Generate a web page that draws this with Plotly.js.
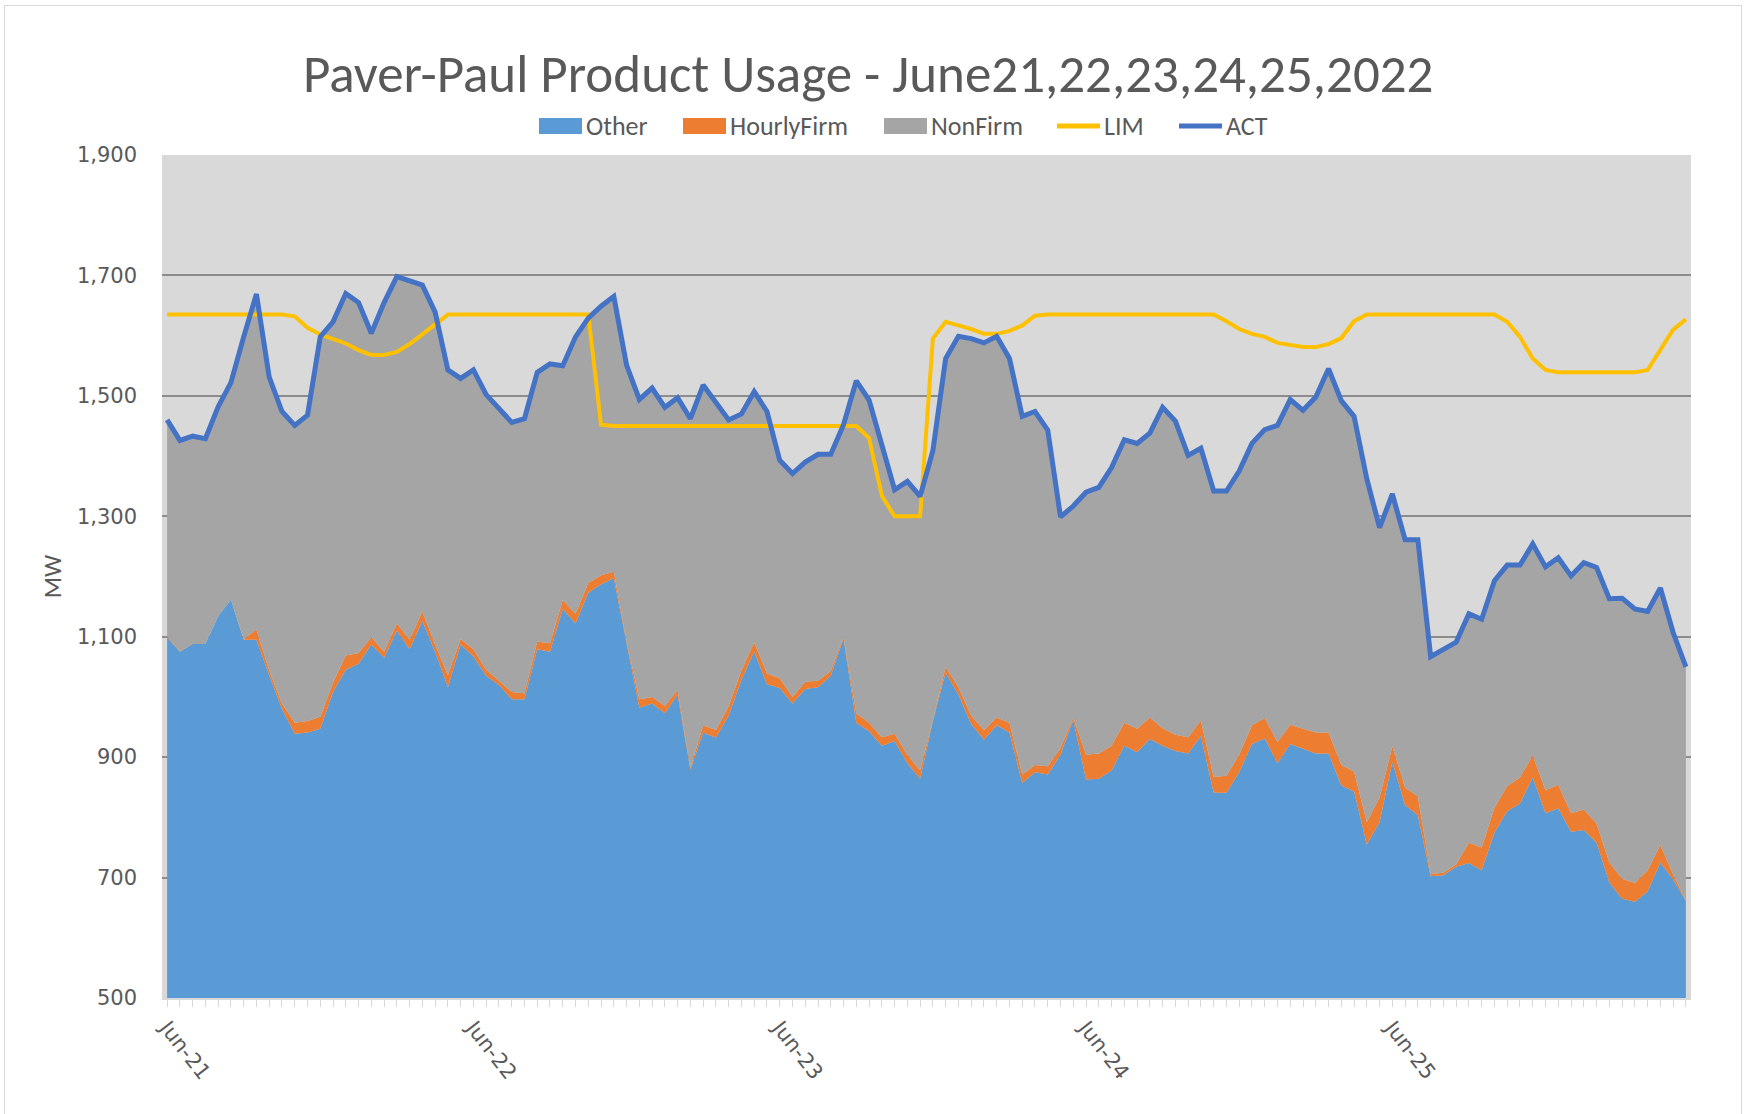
<!DOCTYPE html>
<html>
<head>
<meta charset="utf-8">
<script src="https://cdn.plot.ly/plotly-3.0.1.min.js"></script>
<style>
  html, body { margin: 0; padding: 0; background: #ffffff; }
  #wrap { position: relative; width: 1747px; height: 1114px; overflow: hidden; }
  #chart { width: 1747px; height: 1114px; }
  #frame { position: absolute; left: 4px; top: 5px; width: 1736px; height: 1130px;
           border: 1px solid #d9d9d9; pointer-events: none; }
</style>
</head>
<body>
<div id="wrap">
  <div id="chart"></div>
  <div id="frame"></div>
</div>
<script>
// ---- Data (hourly, June 21 - June 25, 2022) ----
const dayLabels = ['Jun-21', 'Jun-22', 'Jun-23', 'Jun-24', 'Jun-25'];
const hoursPerDay = 24;

const other = [
  1099,1075,1088,1088,1134,1162,1095,1095,1036,980,939,941,947,1008,1045,1055,1087,1065,1110,1079,1126,1075,1016,1087,
  1067,1035,1020,996,996,1079,1075,1146,1122,1173,1187,1197,1090,982,989,973,1004,879,941,932,969,1028,1075,1021,
  1015,989,1013,1016,1035,1097,957,943,919,927,890,864,960,1040,1004,955,929,953,941,857,875,871,904,962,
  863,864,878,919,908,930,919,910,906,935,841,841,875,922,931,890,922,914,906,906,853,843,755,792,
  892,820,804,702,704,718,724,712,775,810,823,866,807,815,776,779,758,692,665,660,677,725,697,661
];

const hourlyFirm = [
  2,1,0,0,0,0,1,17,8,9,18,19,20,16,24,18,12,10,12,16,16,12,20,9,
  12,10,7,12,10,13,14,15,16,16,15,11,3,14,11,12,8,3,12,13,16,16,16,18,
  16,11,12,11,8,3,16,14,14,12,14,14,2,10,12,14,16,13,16,14,12,14,11,4,
  41,42,41,38,39,36,29,27,27,26,26,28,29,31,34,35,32,33,35,35,34,33,37,41,
  26,29,31,4,4,4,34,38,41,42,43,37,38,39,31,34,32,33,33,31,35,29,8,1
];

const nonFirm = [
  359,350,345,341,348,360,502,557,487,485,494,508,631,599,601,582,505,580,576,596,542,552,507,433,
  464,457,453,448,456,447,464,389,460,440,447,457,458,498,513,496,485,580,565,543,475,426,416,435,
  362,371,365,376,360,352,552,536,484,405,454,455,447,512,583,626,643,633,605,595,587,558,384,351,
  436,442,462,470,474,472,533,521,468,452,475,473,471,468,479,526,540,529,557,604,605,590,570,448,
  419,412,426,361,371,369,380,379,377,367,353,351,371,377,394,410,425,438,466,455,430,427,402,388
];

const lim = [
  1635,1635,1635,1635,1635,1635,1635,1635,1635,1635,1632,1613,1602,1595,1587,1576,1568,1568,1573,1586,1603,1620,1635,1635,
  1635,1635,1635,1635,1635,1635,1635,1635,1635,1635,1452,1450,1450,1450,1450,1450,1450,1450,1450,1450,1450,1450,1450,1450,
  1450,1450,1450,1450,1450,1450,1450,1430,1334,1300,1300,1300,1595,1623,1617,1611,1603,1603,1608,1617,1633,1635,1635,1635,
  1635,1635,1635,1635,1635,1635,1635,1635,1635,1635,1635,1624,1611,1603,1598,1588,1584,1581,1581,1586,1596,1624,1635,1635,
  1635,1635,1635,1635,1635,1635,1635,1635,1635,1623,1598,1562,1543,1539,1539,1539,1539,1539,1539,1539,1543,1578,1610,1627
];

const act = [
  1460,1426,1433,1429,1482,1522,1598,1669,1531,1474,1451,1468,1598,1623,1670,1655,1604,1655,1698,1691,1684,1639,1543,1529,
  1543,1502,1480,1456,1462,1539,1553,1550,1598,1629,1649,1665,1551,1494,1513,1481,1497,1462,1518,1488,1460,1470,1507,1474,
  1393,1371,1390,1403,1403,1452,1525,1493,1417,1344,1358,1333,1409,1562,1599,1595,1588,1599,1562,1466,1474,1443,1299,1317,
  1340,1348,1381,1427,1421,1438,1481,1458,1401,1413,1342,1342,1375,1421,1444,1451,1494,1476,1498,1545,1492,1466,1362,1281,
  1337,1261,1261,1067,1079,1091,1138,1129,1193,1219,1219,1254,1216,1231,1201,1223,1215,1163,1164,1146,1142,1181,1107,1050
];

// hour index categories (one per hourly reading)
const hours = [];
for (let i = 0; i < other.length; i++) hours.push(i);
const dayTickVals = dayLabels.map((d, i) => i * hoursPerDay);

const textFont = "Carlito, Calibri, 'Liberation Sans Narrow', 'Arial Narrow', 'Liberation Sans', sans-serif";
const tickFont = "'DejaVu Sans', Verdana, sans-serif";

const series = [
  { name: 'Other',      kind: 'area', color: '#5b9bd5', data: other },
  { name: 'HourlyFirm', kind: 'area', color: '#ed7d31', data: hourlyFirm },
  { name: 'NonFirm',    kind: 'area', color: '#a5a5a5', data: nonFirm },
  { name: 'LIM',        kind: 'line', color: '#ffc000', data: lim,  width: 4 },
  { name: 'ACT',        kind: 'line', color: '#4472c4', data: act,  width: 5 }
];

const traces = series.map(s => s.kind === 'area'
  ? { x: hours, y: s.data, name: s.name, type: 'scatter', mode: 'none', stackgroup: 'one',
      fillcolor: s.color, line: { width: 0 }, showlegend: false }
  : { x: hours, y: s.data, name: s.name, type: 'scatter', mode: 'lines',
      line: { color: s.color, width: s.width }, showlegend: false });

// ---- Custom legend (Excel style: boxes for areas, lines for series lines) ----
const plotL = 162, plotW = 1529, plotB = 998, plotH = 843;
const px2x = X => (X - plotL) / plotW;
const px2y = Y => (plotB - Y) / plotH;
const legendSymbolX = [539, 683, 884, 1057, 1179];
const legendSymbolW = 43;
const legendCY = 126;
const shapes = [];
const annotations = [];
series.forEach((s, i) => {
  const x0 = legendSymbolX[i], x1 = x0 + legendSymbolW;
  if (s.kind === 'area') {
    shapes.push({ type: 'rect', xref: 'paper', yref: 'paper',
      x0: px2x(x0), x1: px2x(x1), y0: px2y(legendCY + 8), y1: px2y(legendCY - 8),
      fillcolor: s.color, line: { width: 0 } });
  } else {
    shapes.push({ type: 'line', xref: 'paper', yref: 'paper',
      x0: px2x(x0), x1: px2x(x1), y0: px2y(legendCY), y1: px2y(legendCY),
      line: { color: s.color, width: 5 } });
  }
  annotations.push({ xref: 'paper', yref: 'paper', x: px2x(x1 + 2), y: px2y(legendCY),
    xanchor: 'left', yanchor: 'middle', showarrow: false, text: s.name,
    font: { family: textFont, size: 26, color: '#595959' } });
});

const layout = {
  width: 1747, height: 1114,
  paper_bgcolor: '#ffffff',
  plot_bgcolor: '#d9d9d9',
  margin: { l: 162, r: 56, t: 155, b: 116, pad: 0 },
  title: {
    text: 'Paver-Paul Product Usage - June21,22,23,24,25,2022',
    font: { family: textFont, size: 53, color: '#595959' },
    x: 0.497, xanchor: 'center', y: 0.934, yanchor: 'middle'
  },
  showlegend: false,
  shapes: shapes,
  annotations: annotations,
  xaxis: {
    range: [-0.4, 119.4],
    tickmode: 'array', tickvals: dayTickVals, ticktext: dayLabels,
    tickangle: 52,
    ticks: 'outside', ticklen: 7, tickcolor: '#d9d9d9', tickwidth: 1,
    minor: { tick0: 0, dtick: 1, ticks: 'outside', ticklen: 7, tickcolor: '#d9d9d9', tickwidth: 1, showgrid: false },
    showgrid: false, zeroline: false,
    showline: true, linecolor: '#d9d9d9', linewidth: 2,
    tickfont: { family: tickFont, size: 21, color: '#595959' }
  },
  yaxis: {
    range: [500, 1900], dtick: 200, tick0: 500,
    tickformat: ',d',
    showgrid: true, gridcolor: '#8c8c8c', gridwidth: 1.5,
    zeroline: false, showline: false, ticks: '',
    ticklabelstandoff: 24,
    tickfont: { family: tickFont, size: 21, color: '#595959' },
    title: { text: 'MW', font: { family: textFont, size: 25, color: '#595959' }, standoff: 8 }
  }
};

Plotly.newPlot('chart', traces, layout, { displayModeBar: false, responsive: false });
</script>
</body>
</html>
